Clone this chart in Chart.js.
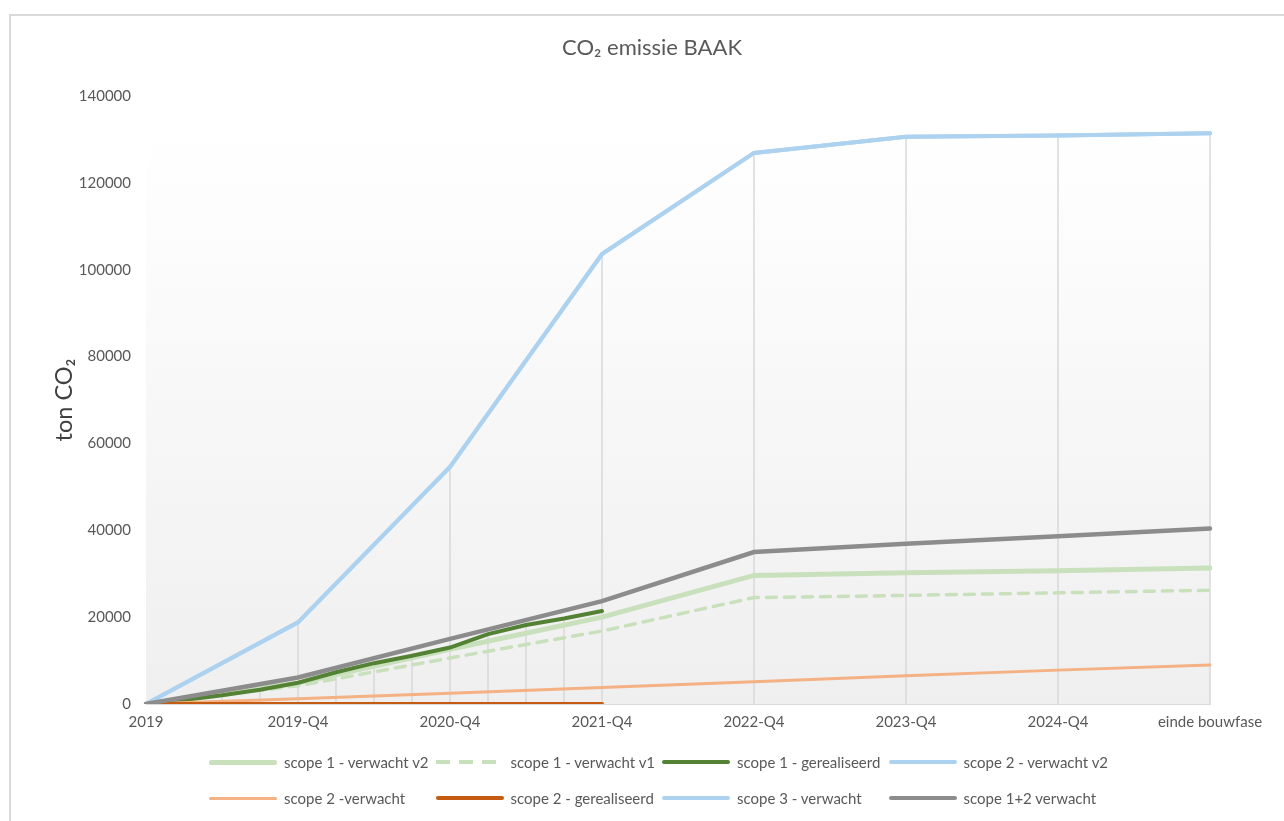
<!DOCTYPE html>
<html>
<head>
<meta charset="utf-8">
<script src="https://cdn.jsdelivr.net/npm/chart.js@4"></script>
<style>
  body { margin: 0; background: #fff; font-family: Lato, "Noto Sans", sans-serif; }
  #kader { position: absolute; left: 9px; top: 14px; width: 1400px; height: 900px;
           border-left: 2px solid #d9d9d9; border-top: 2px solid #d9d9d9; }
  #wrap { position: absolute; left: 0; top: 0; width: 1284px; height: 821px; }
  #legenda { position: absolute; left: 209px; top: 750px; display: grid;
             grid-template-columns: repeat(4, 226.5px); row-gap: 12px;
             font-size: 15px; color: #595959; }
  .item { display: flex; align-items: center; height: 24px; white-space: nowrap; }
  .staal { width: 68px; margin-right: 7px; border-radius: 2px; flex: none; }
</style>
</head>
<body>
<div id="kader"></div>
<div id="wrap"><canvas id="co2_grafiek"></canvas></div>
<div id="legenda"></div>
<script>
// x-as: kwartalen, alleen de jaarlabels worden getoond
const labels = [
  "2019", "", "", "", "2019-Q4", "", "", "", "2020-Q4", "", "", "", "2021-Q4",
  "", "", "", "2022-Q4", "", "", "", "2023-Q4", "", "", "", "2024-Q4",
  "", "", "", "einde bouwfase",
];
const jaarIndex = [0, 4, 8, 12, 16, 20, 24, 28];
const kwartaalIndex = [0, 1, 2, 3, 4, 5, 6, 7, 8, 9, 10, 11, 12];

// waarden in ton CO2
const scope1_verwacht_v2 = [0, 4800, 12600, 20000, 29600, 30200, 30700, 31300];
const scope1_verwacht_v1 = [0, 4200, 10600, 16800, 24500, 25000, 25600, 26200];
const scope1_gerealiseerd = [0, 900, 2000, 3300, 4900, 7300, 9400, 11100, 13000, 16100, 18200, 19700, 21400];
const scope2_verwacht_v2 = [0, 18800, 54600, 103600, 126900, 130600, 130900, 131400];
const scope2_verwacht = [0, 1200, 2500, 3800, 5100, 6500, 7800, 9000];
const scope2_gerealiseerd = [0, 0, 0, 0, 0, 0, 0, 0, 0, 0, 0, 0, 0];
const scope3_verwacht = [0, 18800, 54600, 103600, 126900, 130600, 130900, 131400];
const scope12_verwacht = [0, 6100, 15000, 23700, 35000, 36900, 38600, 40400];

const yTicks = [0, 20000, 40000, 60000, 80000, 100000, 120000, 140000];

function opAs(waarden, posities) {
  const rij = labels.map(() => null);
  waarden.forEach((v, i) => { rij[posities[i]] = v; });
  return rij;
}

const series = [
  { label: "scope 1 - verwacht v2", data: opAs(scope1_verwacht_v2, jaarIndex), kleur: "#c9e0bc", dikte: 5 },
  { label: "scope 1 - verwacht v1", data: opAs(scope1_verwacht_v1, jaarIndex), kleur: "#c9e0bc", dikte: 3.5, streep: [10, 8] },
  { label: "scope 1 - gerealiseerd", data: opAs(scope1_gerealiseerd, kwartaalIndex), kleur: "#548235", dikte: 4 },
  { label: "scope 2 - verwacht v2", data: opAs(scope2_verwacht_v2, jaarIndex), kleur: "#acd2f0", dikte: 4 },
  { label: "scope 2 -verwacht", data: opAs(scope2_verwacht, jaarIndex), kleur: "#f4b183", dikte: 3 },
  { label: "scope 2 - gerealiseerd", data: opAs(scope2_gerealiseerd, kwartaalIndex), kleur: "#c55a11", dikte: 4 },
  { label: "scope 3 - verwacht", data: opAs(scope3_verwacht, jaarIndex), kleur: "#acd2f0", dikte: 4 },
  { label: "scope 1+2 verwacht", data: opAs(scope12_verwacht, jaarIndex), kleur: "#8c8c8c", dikte: 4.5 },
];

// achtergrond van het plotvlak (verloop wit -> lichtgrijs)
const achtergrond = {
  id: "achtergrond",
  beforeDraw(chart) {
    const { ctx, chartArea: a } = chart;
    const g = ctx.createLinearGradient(0, a.top, 0, a.bottom);
    g.addColorStop(0, "#ffffff");
    g.addColorStop(0.12, "#fefefe");
    g.addColorStop(1, "#efefef");
    ctx.save();
    ctx.fillStyle = g;
    ctx.fillRect(a.left, a.top, a.right - a.left, a.bottom - a.top);
    ctx.restore();
  },
};

// vallijnen: van het hoogste punt per categorie naar de x-as
const valLijnen = {
  id: "valLijnen",
  beforeDatasetsDraw(chart) {
    const { ctx, scales: { x, y } } = chart;
    ctx.save();
    ctx.strokeStyle = "#d9d9d9";
    ctx.lineWidth = 1.5;
    chart.data.labels.forEach((_, i) => {
      let max = null;
      chart.data.datasets.forEach((ds) => {
        const v = ds.data[i];
        if (v != null && (max === null || v > max)) max = v;
      });
      if (max === null || max <= 0) return;
      const px = x.getPixelForValue(i);
      ctx.beginPath();
      ctx.moveTo(px, y.getPixelForValue(max));
      ctx.lineTo(px, y.getPixelForValue(0));
      ctx.stroke();
    });
    ctx.restore();
  },
};

const ctx = document.getElementById("co2_grafiek").getContext("2d");

const grafiek = new Chart(ctx, {
  type: "line",
  data: {
    labels: labels,
    datasets: series.map((s, i) => ({
      label: s.label,
      data: s.data,
      borderColor: s.kleur,
      backgroundColor: s.kleur,
      borderWidth: s.dikte,
      borderDash: s.streep || [],
      borderCapStyle: "round",
      pointRadius: 0,
      spanGaps: true,
      tension: 0,
      order: series.length - i,
    })),
  },
  options: {
    responsive: true,
    maintainAspectRatio: false,
    animation: false,
    layout: { padding: { top: 27, right: 0, bottom: 87, left: 20 } },
    plugins: {
      legend: { display: false },
      tooltip: { enabled: false },
      title: {
        display: true,
        text: "CO₂ emissie BAAK",
        color: "#595959",
        font: { family: "Lato, 'Noto Sans'", size: 22, weight: "normal" },
        padding: { top: 8, bottom: 34.6 },
      },
    },
    scales: {
      x: {
        grid: { display: false },
        border: { display: true, color: "#d9d9d9", width: 1 },
        ticks: {
          autoSkip: false,
          maxRotation: 0,
          padding: 1,
          color: "#595959",
          font: { family: "Lato, 'Noto Sans'", size: 15 },
        },
        afterFit: (scale) => { scale.height = 30; },
      },
      y: {
        min: 0,
        max: 140000,
        grid: { display: false },
        border: { display: false },
        afterBuildTicks: (scale) => { scale.ticks = yTicks.map((v) => ({ value: v })); },
        ticks: {
          padding: 7,
          color: "#595959",
          font: { family: "Lato, 'Noto Sans'", size: 15 },
          callback: (v) => String(v),
        },
        title: {
          display: true,
          text: "ton CO₂",
          color: "#404040",
          font: { family: "Lato, 'Noto Sans'", size: 23.5 },
          padding: { top: 30, bottom: 0 },
        },
        afterFit: (scale) => { scale.width = 126; },
      },
      // lege rechteras: ruimte rechts van het plotvlak
      rechts: {
        position: "right",
        grid: { display: false },
        border: { display: false },
        ticks: { display: false },
        afterFit: (scale) => { scale.width = 74; },
      },
    },
  },
  plugins: [achtergrond, valLijnen],
});

// legenda in vier kolommen, opgebouwd uit de datasets
const legenda = document.getElementById("legenda");
grafiek.data.datasets.forEach((ds) => {
  const item = document.createElement("div");
  item.className = "item";
  const staal = document.createElement("div");
  staal.className = "staal";
  staal.style.height = ds.borderWidth + "px";
  if (ds.borderDash.length) {
    staal.style.background =
      "repeating-linear-gradient(90deg, " + ds.borderColor + " 0 14px, transparent 14px 23px)";
    staal.style.borderRadius = "0";
  } else {
    staal.style.background = ds.borderColor;
  }
  item.appendChild(staal);
  item.appendChild(document.createTextNode(ds.label));
  legenda.appendChild(item);
});
</script>
</body>
</html>
